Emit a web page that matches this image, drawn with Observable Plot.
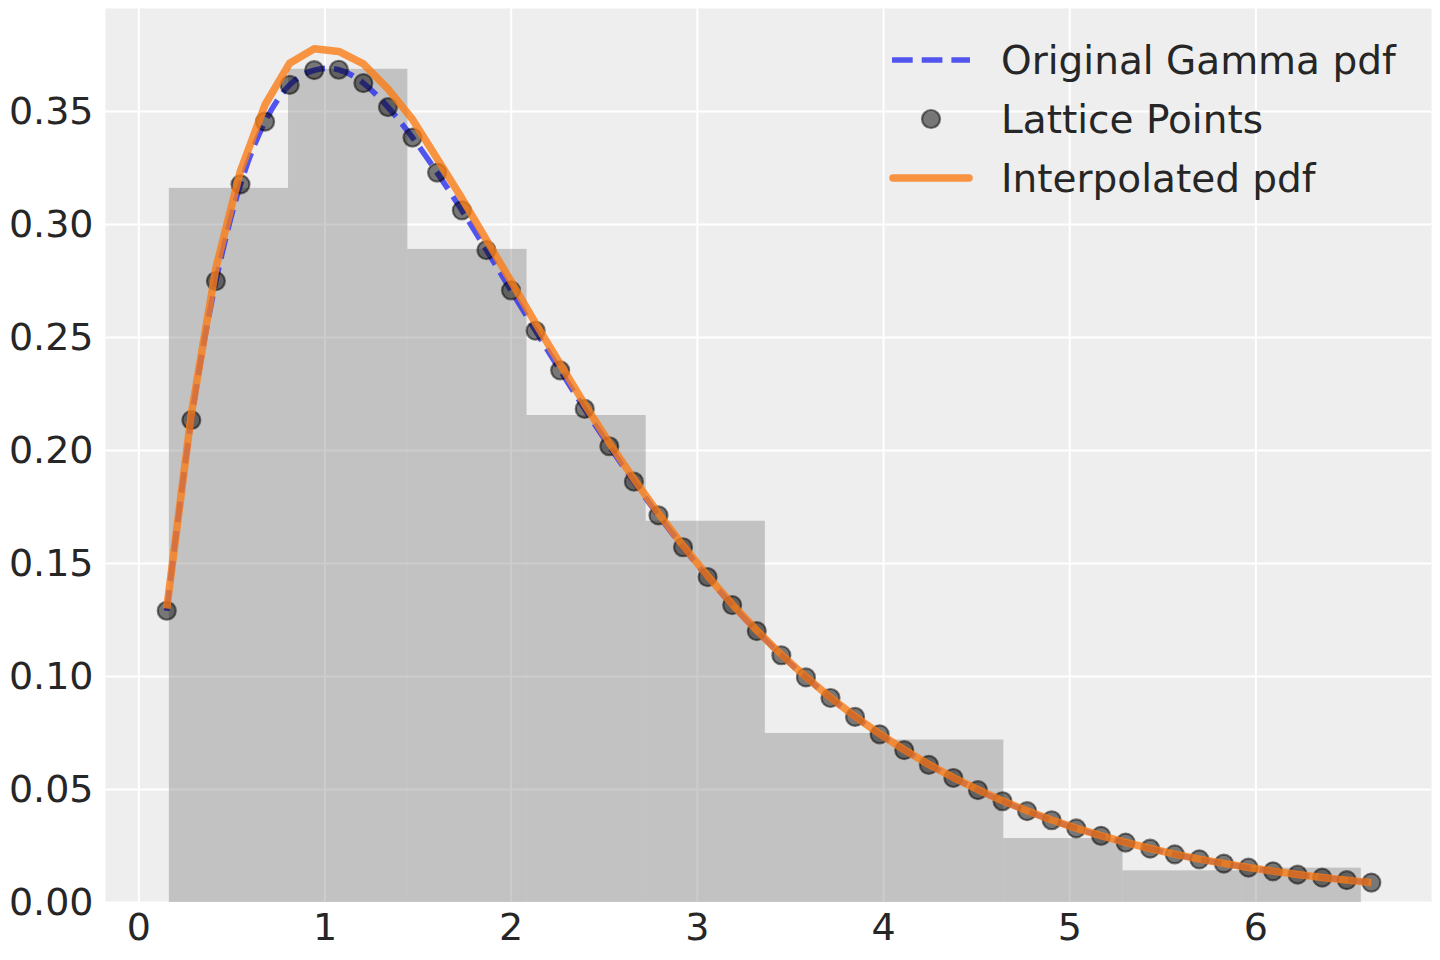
<!DOCTYPE html>
<html>
<head>
<meta charset="utf-8">
<script src="https://cdn.jsdelivr.net/npm/d3@7"></script>
<script src="https://cdn.jsdelivr.net/npm/@observablehq/plot@0.6"></script>
<style>
  html, body { margin: 0; padding: 0; background: #ffffff; }
  #chart { width: 1440px; height: 960px; }
</style>
</head>
<body>
<div id="chart"></div>
<script>
// ---- data ----
const latticeX = [0.150, 0.282, 0.414, 0.546, 0.678, 0.810, 0.942, 1.074, 1.206, 1.338,
  1.470, 1.602, 1.735, 1.867, 1.999, 2.131, 2.263, 2.395, 2.527, 2.659,
  2.791, 2.923, 3.055, 3.187, 3.319, 3.451, 3.583, 3.715, 3.847, 3.979,
  4.111, 4.243, 4.375, 4.507, 4.639, 4.771, 4.903, 5.035, 5.168, 5.300,
  5.432, 5.564, 5.696, 5.828, 5.960, 6.092, 6.224, 6.356, 6.488, 6.620];

const gammaPdf = [0.1291, 0.2135, 0.2750, 0.3178, 0.3455, 0.3618, 0.3683, 0.3685, 0.3626, 0.3520,
  0.3385, 0.3230, 0.3063, 0.2887, 0.2709, 0.2530, 0.2355, 0.2184, 0.2019, 0.1862,
  0.1713, 0.1572, 0.1440, 0.1316, 0.1201, 0.1094, 0.0996, 0.0905, 0.0821, 0.0744,
  0.0674, 0.0609, 0.0551, 0.0497, 0.0448, 0.0404, 0.0364, 0.0328, 0.0295, 0.0265,
  0.0238, 0.0213, 0.0191, 0.0172, 0.0154, 0.0138, 0.0123, 0.0110, 0.0099, 0.0088];

const interpPdf = [0.1301, 0.2162, 0.2807, 0.3238, 0.3530, 0.3714, 0.3778, 0.3766, 0.3711, 0.3600,
  0.3465, 0.3292, 0.3116, 0.2932, 0.2749, 0.2563, 0.2383, 0.2204, 0.2034, 0.1874,
  0.1722, 0.1579, 0.1445, 0.1320, 0.1204, 0.1097, 0.0998, 0.0907, 0.0823, 0.0746,
  0.0676, 0.0611, 0.0553, 0.0499, 0.0450, 0.0406, 0.0365, 0.0329, 0.0296, 0.0266,
  0.0239, 0.0214, 0.0192, 0.0173, 0.0155, 0.0139, 0.0124, 0.0111, 0.0099, 0.0088];

const binEdges = [0.164, 0.804, 1.445, 2.085, 2.725, 3.365, 4.006, 4.646, 5.286, 5.926, 6.566];
const binHeights = [0.3160, 0.3687, 0.2890, 0.2155, 0.1687, 0.0748, 0.0719, 0.0283, 0.0140, 0.0152];

const xTicks = [0, 1, 2, 3, 4, 5, 6];
const yTicks = [0, 0.05, 0.10, 0.15, 0.20, 0.25, 0.30, 0.35];

const legendLabels = ["Original Gamma pdf", "Lattice Points", "Interpolated pdf"];

// ---- derived tables ----
const points = latticeX.map((x, i) => ({x, pdf: gammaPdf[i], interp: interpPdf[i]}));
const bins = binHeights.map((h, i) => ({x1: binEdges[i], x2: binEdges[i + 1], y: h}));

const BLUE = "#2a2eec";
const ORANGE = "#fa7c17";
const FONT = "'DejaVu Sans', 'Liberation Sans', sans-serif";
const TEXT = "#262626";

const svg = Plot.plot({
  width: 1440,
  height: 960,
  marginLeft: 105,
  marginRight: 9,
  marginTop: 8,
  marginBottom: 58,
  style: {fontFamily: FONT, fontSize: "38px", color: TEXT, background: "#ffffff", overflow: "visible"},
  x: {domain: [-0.179, 6.943], ticks: xTicks, tickFormat: d => String(d), label: null},
  y: {domain: [0, 0.3956], ticks: yTicks, tickFormat: d3.format(".2f"), label: null},
  marks: [
    Plot.frame({fill: "#eeeeee", stroke: null}),
    Plot.gridX(xTicks, {stroke: "#ffffff", strokeOpacity: 1, strokeWidth: 2}),
    Plot.gridY(yTicks, {stroke: "#ffffff", strokeOpacity: 1, strokeWidth: 2}),
    Plot.rectY(bins, {x1: "x1", x2: "x2", y: "y", fill: "#808080", fillOpacity: 0.4, inset: 0}),
    Plot.line(points, {x: "x", y: "pdf", stroke: BLUE, strokeOpacity: 0.8, strokeWidth: 5.6,
      strokeDasharray: "20.7,9", curve: "natural", strokeLinecap: "butt"}),
    Plot.dot(points, {x: "x", y: "pdf", r: 9, fill: "#000000", fillOpacity: 0.5,
      stroke: "#000000", strokeOpacity: 0.5, strokeWidth: 2.2}),
    Plot.line(points, {x: "x", y: "interp", stroke: ORANGE, strokeOpacity: 0.8, strokeWidth: 7.5,
      strokeLinejoin: "round", strokeLinecap: "butt"}),
    Plot.axisX(xTicks, {tickSize: 0, tickPadding: 11, fontSize: 38, fill: TEXT, label: null, tickFormat: d => String(d)}),
    Plot.axisY(yTicks, {tickSize: 0, tickPadding: 12, fontSize: 38, fill: TEXT, label: null, tickFormat: d3.format(".2f")})
  ]
});

document.getElementById("chart").appendChild(svg);

// ---- legend (upper right, inside the plot area) ----
const leg = d3.select(svg).append("g").attr("class", "legend").attr("text-anchor", "start");
const rowY = [60, 119, 178];
const hx1 = 892, hx2 = 970, tx = 1001;

leg.append("line")
  .attr("x1", hx1).attr("x2", hx2).attr("y1", rowY[0]).attr("y2", rowY[0])
  .attr("stroke", BLUE).attr("stroke-opacity", 0.8).attr("stroke-width", 5.6)
  .attr("stroke-dasharray", "20.7,9");

leg.append("circle")
  .attr("cx", (hx1 + hx2) / 2).attr("cy", rowY[1]).attr("r", 9)
  .attr("fill", "#000").attr("fill-opacity", 0.5)
  .attr("stroke", "#000").attr("stroke-opacity", 0.5).attr("stroke-width", 2.2);

leg.append("line")
  .attr("x1", hx1 + 1).attr("x2", hx2 - 1).attr("y1", rowY[2]).attr("y2", rowY[2])
  .attr("stroke", ORANGE).attr("stroke-opacity", 0.8).attr("stroke-width", 7.5)
  .attr("stroke-linecap", "round");

legendLabels.forEach((t, i) => {
  leg.append("text")
    .attr("x", tx).attr("y", rowY[i]).attr("dy", "0.35em")
    .attr("text-anchor", "start")
    .attr("fill", TEXT)
    .style("font-family", FONT).style("font-size", "39px")
    .text(t);
});
</script>
</body>
</html>
